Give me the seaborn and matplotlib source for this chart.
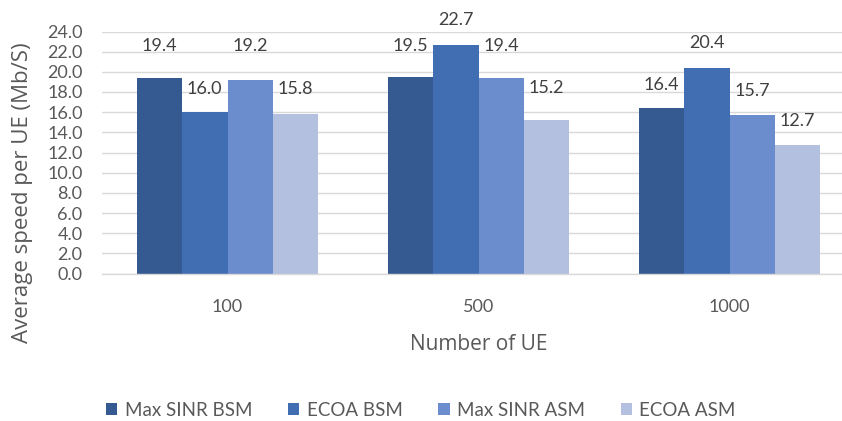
import matplotlib
matplotlib.use("Agg")
import matplotlib.pyplot as plt
import seaborn as sns
import pandas as pd
import numpy as np
from matplotlib.patches import Patch

categories = ["100", "500", "1000"]
series = ["Max SINR BSM", "ECOA BSM", "Max SINR ASM", "ECOA ASM"]
max_sinr_bsm = [19.4, 19.5, 16.4]
ecoa_bsm = [16.0, 22.7, 20.4]
max_sinr_asm = [19.2, 19.4, 15.7]
ecoa_asm = [15.8, 15.2, 12.7]
y_ticks = [0, 2, 4, 6, 8, 10, 12, 14, 16, 18, 20, 22, 24]

colors = ["#355A92", "#416EB3", "#6C8DCD", "#B4C0E0"]
# label vertical offsets (pixels above the bar top, to label centre) mimicking Excel placement
label_offsets = {
    "Max SINR BSM": [32, 31, 23],
    "ECOA BSM": [23, 25, 25],
    "Max SINR ASM": [34, 32, 24],
    "ECOA ASM": [25, 32, 24],
}

rows = []
for s, vals in zip(series, [max_sinr_bsm, ecoa_bsm, max_sinr_asm, ecoa_asm]):
    for c, v in zip(categories, vals):
        rows.append({"cat": c, "series": s, "value": v})
df = pd.DataFrame(rows)

sns.set_theme(style="white")
plt.rcParams["font.family"] = ["Lato", "DejaVu Sans"]
text_color = "#595959"
grid_color = "#D9D9D9"

fig = plt.figure(figsize=(8.42, 4.21), dpi=100)
ax = fig.add_axes([102 / 842, 1 - 273.5 / 421, 753 / 842, 242 / 421])

sns.barplot(data=df, x="cat", y="value", hue="series", order=categories,
            hue_order=series, palette=colors, width=0.725, gap=0,
            linewidth=0, saturation=1, legend=False, ax=ax, errorbar=None)

ax.set_ylim(0, 24)
ax.set_xlim(-0.5, 2.5)
ax.set_yticks(y_ticks)
ax.set_yticklabels([f"{t:.1f}" for t in y_ticks])
ax.yaxis.grid(True, color=grid_color, linewidth=1)
ax.set_axisbelow(True)
for sp in ["top", "right", "left"]:
    ax.spines[sp].set_visible(False)
ax.spines["bottom"].set_color(grid_color)
ax.spines["bottom"].set_linewidth(1)

ax.tick_params(axis="y", length=0, pad=14, labelsize=13, labelcolor=text_color)
ax.tick_params(axis="x", which="major", length=0, pad=18, labelsize=13, labelcolor=text_color)
ax.set_xticks([-0.5, 0.5, 1.5, 2.5], minor=True)
ax.tick_params(axis="x", which="minor", length=5, color=grid_color, width=1)

title_font = ["Open Sans", "DejaVu Sans"]
ax.set_xlabel("Number of UE", fontsize=15, color=text_color, labelpad=14, family=title_font)
ax.set_ylabel("Average speed per UE (Mb/S)", fontsize=16, color=text_color,
              family=title_font, va="center")
ax.yaxis.set_label_coords((23 - 102) / 753, (273.5 - 193) / 242)

# data labels
for cont, s in zip(ax.containers, series):
    for bar, off in zip(cont, label_offsets[s]):
        h = bar.get_height()
        ax.annotate(f"{h:.1f}", (bar.get_x() + bar.get_width() / 2, h),
                    xytext=(0, off * 0.72), textcoords="offset points",
                    ha="center", va="center", fontsize=13, color="#404040")

handles = [Patch(facecolor=c, edgecolor="none") for c in colors]
fig.legend(handles, series, loc="center", bbox_to_anchor=(0.5, 1 - 410 / 421),
           ncol=4, frameon=False, fontsize=13.5, labelcolor=text_color,
           handlelength=0.6, handleheight=0.6, handletextpad=0.4, columnspacing=1.9)

fig.savefig("out.png", dpi=100)
